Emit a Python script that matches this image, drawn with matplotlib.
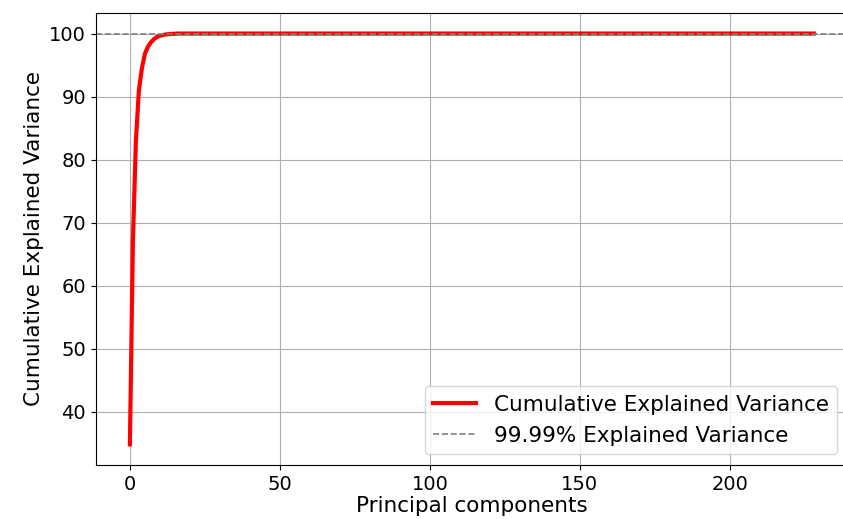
import matplotlib
matplotlib.use("Agg")
import matplotlib.pyplot as plt
import numpy as np

# cumulative explained variance (%), components 0..15
head_values = [34.8, 67.0, 83.0, 91.0, 94.5, 96.8, 97.9, 98.6, 99.1, 99.45,
               99.65, 99.78, 99.86, 99.91, 99.94, 99.96]
n_components = 229
tail_values = [100.0] * (n_components - len(head_values))
cum_variance = np.array(head_values + tail_values)
components = np.arange(n_components)
threshold = 99.99

fig = plt.figure(figsize=(8.43, 5.19), dpi=100)
ax = fig.add_axes([95.7 / 843, 54 / 519, (848 - 95.7) / 843, 452 / 519])

ax.plot(components, cum_variance, color="red", linewidth=3,
        label="Cumulative Explained Variance")
ax.axhline(threshold, color="gray", linestyle="--", linewidth=1.2,
           label="99.99% Explained Variance")

ax.set_xlabel("Principal components", fontsize=15.5, labelpad=2)
ax.set_ylabel("Cumulative Explained Variance", fontsize=15.5)
ax.tick_params(labelsize=14)
ax.grid(True)
ax.legend(loc="lower right", fontsize=15.5)

fig.savefig("out.png", dpi=100)
